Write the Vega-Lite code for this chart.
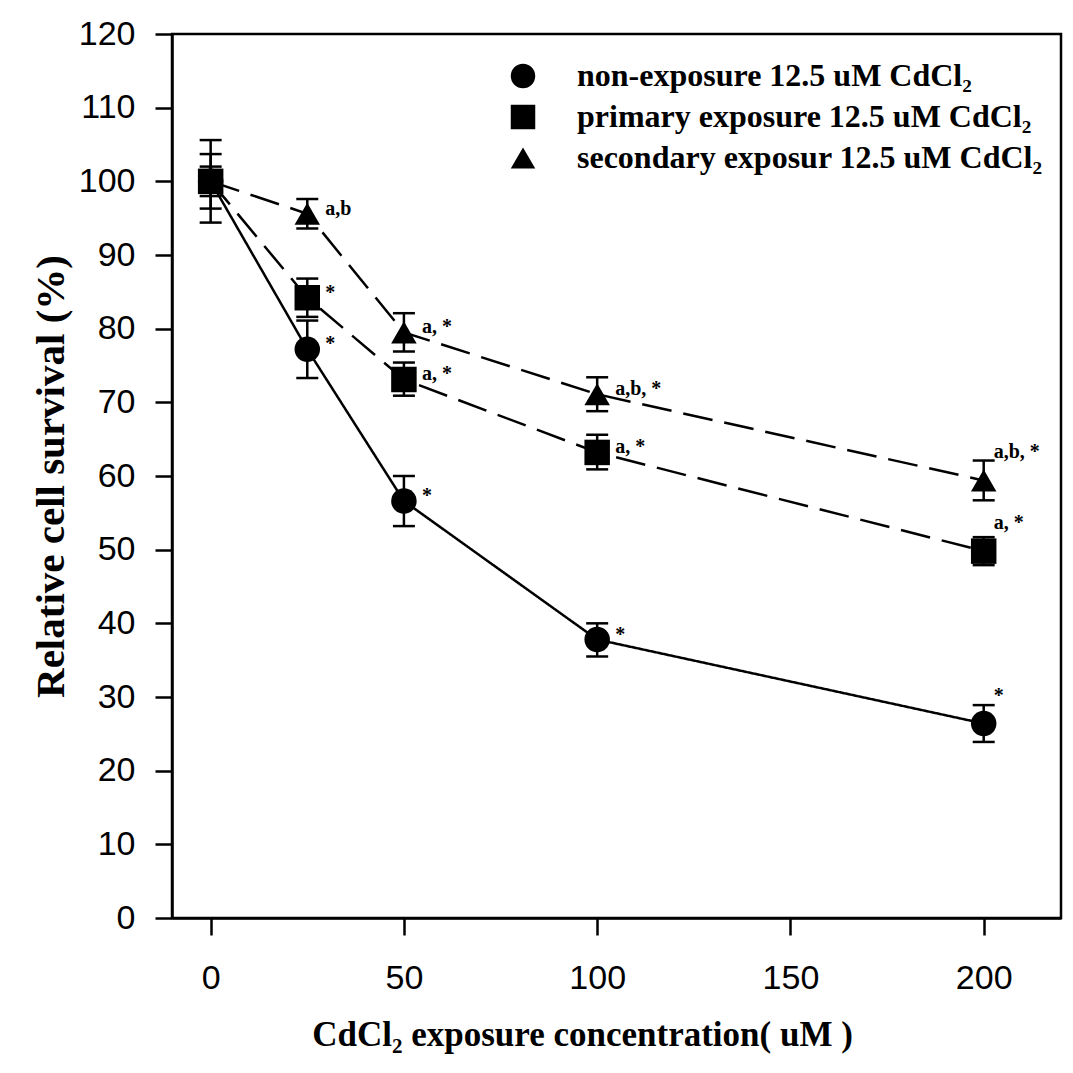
{
  "$schema": "https://vega.github.io/schema/vega-lite/v6.json",
  "width": 889,
  "height": 884,
  "autosize": {"type": "none"},
  "padding": {"left": 172, "top": 34, "right": 12, "bottom": 155},
  "background": "white",
  "config": {
    "view": {"stroke": "black", "strokeWidth": 2.5},
    "axis": {
      "grid": false,
      "domainColor": "black",
      "domainWidth": 2.5,
      "tickColor": "black",
      "tickWidth": 2.5,
      "tickSize": 17,
      "labelFont": "Liberation Sans",
      "labelFontSize": 34,
      "labelColor": "black",
      "titleFont": "Liberation Serif",
      "titleFontWeight": "bold",
      "titleColor": "black"
    },
    "legend": {
      "orient": "none",
      "legendX": 335,
      "legendY": 26,
      "padding": 0,
      "labelFont": "Liberation Serif",
      "labelFontWeight": "bold",
      "labelFontSize": 32,
      "labelColor": "black",
      "labelLimit": 800,
      "labelOffset": 38,
      "symbolSize": 600,
      "symbolFillColor": "black",
      "symbolStrokeColor": "black",
      "rowPadding": 9
    }
  },
  "data": {
    "values": [
      {"series": "secondary exposur 12.5 uM CdCl₂", "x": 0, "y": 100, "lo": 98, "hi": 102, "note": ""},
      {"series": "secondary exposur 12.5 uM CdCl₂", "x": 25, "y": 95.6, "lo": 93.6, "hi": 97.6, "note": "a,b"},
      {"series": "secondary exposur 12.5 uM CdCl₂", "x": 50, "y": 79.5, "lo": 76.9, "hi": 82.1, "note": "a, *"},
      {"series": "secondary exposur 12.5 uM CdCl₂", "x": 100, "y": 71.1, "lo": 68.8, "hi": 73.4, "note": "a,b, *"},
      {"series": "secondary exposur 12.5 uM CdCl₂", "x": 200, "y": 59.4, "lo": 56.7, "hi": 62.1, "note": "a,b, *"},
      {"series": "non-exposure 12.5 uM CdCl₂", "x": 0, "y": 100, "lo": 94.4, "hi": 105.6, "note": ""},
      {"series": "non-exposure 12.5 uM CdCl₂", "x": 25, "y": 77.2, "lo": 73.3, "hi": 81.1, "note": "*"},
      {"series": "non-exposure 12.5 uM CdCl₂", "x": 50, "y": 56.6, "lo": 53.2, "hi": 60.0, "note": "*"},
      {"series": "non-exposure 12.5 uM CdCl₂", "x": 100, "y": 37.8, "lo": 35.5, "hi": 40.0, "note": "*"},
      {"series": "non-exposure 12.5 uM CdCl₂", "x": 200, "y": 26.4, "lo": 23.9, "hi": 28.9, "note": "*"},
      {"series": "primary exposure 12.5 uM CdCl₂", "x": 0, "y": 100, "lo": 96.3, "hi": 103.7, "note": ""},
      {"series": "primary exposure 12.5 uM CdCl₂", "x": 25, "y": 84.2, "lo": 81.6, "hi": 86.8, "note": "*"},
      {"series": "primary exposure 12.5 uM CdCl₂", "x": 50, "y": 73.1, "lo": 70.9, "hi": 75.4, "note": "a, *"},
      {"series": "primary exposure 12.5 uM CdCl₂", "x": 100, "y": 63.2, "lo": 60.9, "hi": 65.6, "note": "a, *"},
      {"series": "primary exposure 12.5 uM CdCl₂", "x": 200, "y": 49.8, "lo": 47.9, "hi": 51.7, "note": "a, *"}
    ]
  },
  "encoding": {
    "x": {
      "field": "x",
      "type": "quantitative",
      "scale": {"domain": [-10, 220], "nice": false, "zero": false},
      "axis": {
        "values": [0, 50, 100, 150, 200],
        "labelPadding": 26,
        "title": "CdCl₂ exposure concentration( uM )",
        "titleFontSize": 35,
        "titlePadding": 22,
        "titleX": 410,
        "titleAlign": "center"
      }
    },
    "y": {
      "field": "y",
      "type": "quantitative",
      "title": "Relative cell survival (%)",
      "scale": {"domain": [0, 120], "nice": false},
      "axis": {
        "values": [0, 10, 20, 30, 40, 50, 60, 70, 80, 90, 100, 110, 120],
        "labelPadding": 20,
        "titleFontSize": 41,
        "titlePadding": 6
      }
    }
  },
  "layer": [
    {
      "mark": {"type": "line", "color": "black", "strokeWidth": 2.5},
      "encoding": {
        "detail": {"field": "series"},
        "strokeDash": {
          "condition": {"test": "indexof(datum.series, 'non') == 0", "value": [1, 0]},
          "value": [30, 12]
        }
      }
    },
    {
      "mark": {"type": "errorbar", "ticks": {"color": "black", "strokeWidth": 2.5, "opacity": 1}, "rule": {"color": "black", "strokeWidth": 2.5, "opacity": 1}, "size": 22, "thickness": 2.5, "color": "black"},
      "encoding": {
        "y": {"field": "lo", "type": "quantitative", "title": "Relative cell survival (%)"},
        "y2": {"field": "hi"},
        "detail": {"field": "series"}
      }
    },
    {
      "mark": {"type": "point", "filled": true, "opacity": 1, "color": "black", "size": 650},
      "encoding": {
        "shape": {
          "field": "series",
          "type": "nominal",
          "scale": {
            "domain": ["non-exposure 12.5 uM CdCl₂", "primary exposure 12.5 uM CdCl₂", "secondary exposur 12.5 uM CdCl₂"],
            "range": ["circle", "square", "triangle-up"]
          },
          "legend": {"title": null}
        }
      }
    },
    {
      "transform": [{"filter": "datum.x < 150"}],
      "mark": {"type": "text", "align": "left", "baseline": "middle", "dx": 18, "dy": -5, "font": "Liberation Serif", "fontWeight": "bold", "fontSize": 20, "color": "black"},
      "encoding": {"text": {"field": "note"}}
    },
    {
      "transform": [{"filter": "datum.x >= 150"}],
      "mark": {"type": "text", "align": "left", "baseline": "middle", "dx": 10, "dy": -28, "font": "Liberation Serif", "fontWeight": "bold", "fontSize": 20, "color": "black"},
      "encoding": {"text": {"field": "note"}}
    }
  ]
}
